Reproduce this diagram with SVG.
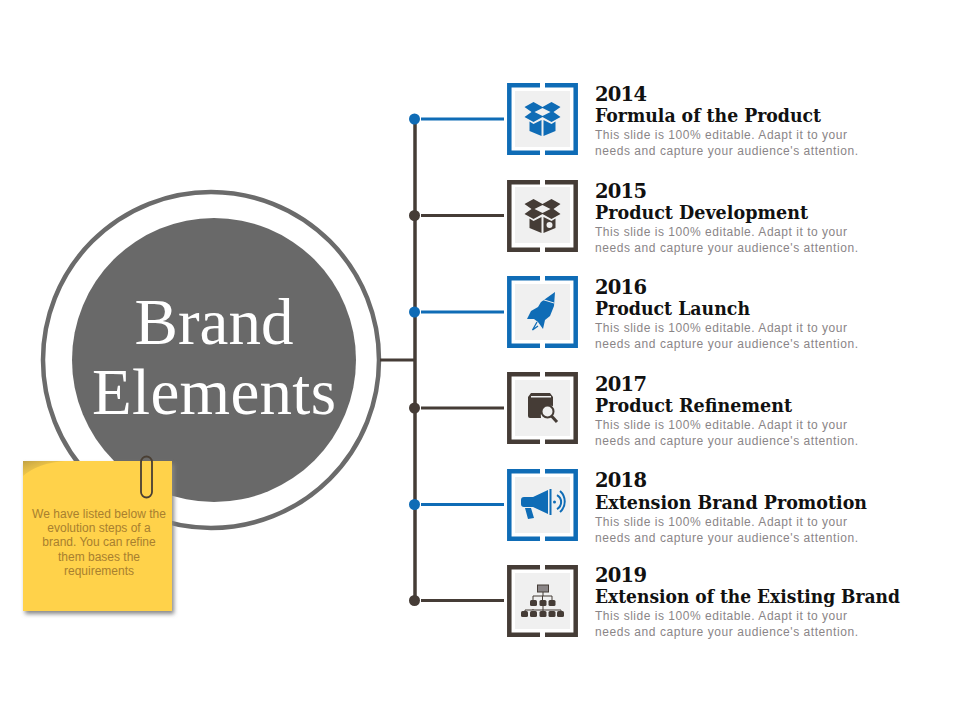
<svg xmlns="http://www.w3.org/2000/svg" width="960" height="720" viewBox="0 0 960 720">
<style>
.yr{font:bold 19.500px "DejaVu Serif","Liberation Serif",serif;fill:#111}
.ttl{font:bold 18px "DejaVu Serif","Liberation Serif",serif;fill:#111}
.dsc{font:12px "Liberation Sans",Arial,sans-serif;fill:#8a8587}
.note{font:12px "Liberation Sans",Arial,sans-serif;fill:#a8802f;text-anchor:middle}
.big{font:65px "Liberation Serif",serif;fill:#fff;text-anchor:middle}
.bg{fill:#f0f0f0}
.fb{fill:none;stroke:#0f6cb6;stroke-width:4.500}
.fd{fill:none;stroke:#453c36;stroke-width:4.500}
.ib{fill:#0f6cb6}
.id{fill:#453c36}
.lb{stroke:#0f6cb6;stroke-width:3;fill:none}
.ld{stroke:#453c36;stroke-width:3;fill:none}
</style>
<defs>
<filter id="sh" x="-10%" y="-10%" width="120%" height="120%"><feGaussianBlur stdDeviation="2"/></filter>
<linearGradient id="fold" x1="0" y1="0" x2="1" y2="1"><stop offset="0" stop-color="#bfa044"/><stop offset="1" stop-color="#ffd24a" stop-opacity="0"/></linearGradient>
<path id="frame" d="M33 2.300H2.300V69.700H33M38 69.700H68.700V2.300H38"/>
<path id="box" d="M-9 -16L0 -11L9 -16L18 -11L11 -6L18 -1L9 4L0 -1L-9 4L-18 -1L-11 -6L-18 -11ZM-13 3.500L-9 6L-1 2V18L-13 13ZM13 3.500L9 6L1 2V18L13 13ZM-8 -6L0 -10L8 -6L0 -2Z" fill-rule="evenodd"/>
</defs>
<rect width="960" height="720" fill="#fff"/>
<g id="brand-circle">
<circle cx="211" cy="360" r="168" fill="#fff" stroke="#6b6b6b" stroke-width="4.500"/>
<circle cx="214" cy="360" r="142" fill="#696969"/>
<text class="big" x="214" y="344" textLength="159">Brand</text>
<text class="big" x="214" y="414" textLength="244">Elements</text>
</g>
<g id="connectors">
<path class="ld" d="M380 360H415"/>
<path d="M415 119V600" stroke="#453c36" stroke-width="3.500" fill="none"/>
<path class="lb" d="M421 119H504"/>
<path class="ld" d="M421 215.500H504"/>
<path class="lb" d="M421 312H504"/>
<path class="ld" d="M421 408H504"/>
<path class="lb" d="M421 504.500H504"/>
<path class="ld" d="M421 600.500H504"/>
<circle class="ib" cx="414.500" cy="119" r="5.500"/>
<circle class="id" cx="414.500" cy="215.500" r="5.500"/>
<circle class="ib" cx="414.500" cy="312" r="5.500"/>
<circle class="id" cx="414.500" cy="408" r="5.500"/>
<circle class="ib" cx="414.500" cy="504.500" r="5.500"/>
<circle class="id" cx="414.500" cy="600.500" r="5.500"/>
</g>
<g id="node-2014">
<use href="#frame" class="fb" x="507" y="83"/>
<rect class="bg" x="515" y="91" width="55" height="56"/>
<use href="#box" class="ib" x="542.500" y="118"/>
<text class="yr" x="595" y="101" textLength="52">2014</text>
<text class="ttl" x="595" y="122" textLength="226" lengthAdjust="spacingAndGlyphs">Formula of the Product</text>
<text class="dsc" x="595" y="139" textLength="252">This slide is 100% editable. Adapt it to your</text>
<text class="dsc" x="595" y="155" textLength="263">needs and capture your audience's attention.</text>
</g>
<g id="node-2015">
<use href="#frame" class="fd" x="507" y="180"/>
<rect class="bg" x="515" y="187" width="55" height="56"/>
<use href="#box" class="id" x="542.500" y="215"/>
<circle cx="549.500" cy="225" r="3" fill="#f0f0f0"/>
<text class="yr" x="595" y="198" textLength="52">2015</text>
<text class="ttl" x="595" y="219" textLength="213" lengthAdjust="spacingAndGlyphs">Product Development</text>
<text class="dsc" x="595" y="236" textLength="252">This slide is 100% editable. Adapt it to your</text>
<text class="dsc" x="595" y="252" textLength="263">needs and capture your audience's attention.</text>
</g>
<g id="node-2016">
<use href="#frame" class="fb" x="507" y="276"/>
<rect class="bg" x="515" y="284" width="55" height="56"/>
<path class="ib" d="M555 292L554 306L550 316L545 320L543 329L538 322L534 319L527 319L531 311L538 307L541 302Z"/>
<path d="M541 299L554 303" stroke="#f0f0f0" stroke-width="1" fill="none"/>
<path d="M537 322L532.500 330L538 326" stroke="#0f6cb6" stroke-width="1.300" fill="none"/>
<text class="yr" x="595" y="294" textLength="52">2016</text>
<text class="ttl" x="595" y="315" textLength="155" lengthAdjust="spacingAndGlyphs">Product Launch</text>
<text class="dsc" x="595" y="332" textLength="252">This slide is 100% editable. Adapt it to your</text>
<text class="dsc" x="595" y="348" textLength="263">needs and capture your audience's attention.</text>
</g>
<g id="node-2017">
<use href="#frame" class="fd" x="507" y="372"/>
<rect class="bg" x="515" y="380" width="55" height="56"/>
<path class="id" d="M531 393H550L553 397V406A10 10 0 0 0 541 418H530A2 2 0 0 1 528 416V397Z"/>
<rect x="531" y="396" width="20" height="1.500" fill="#f0f0f0"/>
<circle cx="547.500" cy="411.500" r="6" fill="#f0f0f0" stroke="#453c36" stroke-width="2"/>
<path class="ld" d="M551.500 416L557 422"/>
<text class="yr" x="595" y="391" textLength="52">2017</text>
<text class="ttl" x="595" y="412" textLength="197" lengthAdjust="spacingAndGlyphs">Product Refinement</text>
<text class="dsc" x="595" y="429" textLength="252">This slide is 100% editable. Adapt it to your</text>
<text class="dsc" x="595" y="445" textLength="263">needs and capture your audience's attention.</text>
</g>
<g id="node-2018">
<use href="#frame" class="fb" x="507" y="469"/>
<rect class="bg" x="515" y="477" width="55" height="56"/>
<path class="ib" d="M524 497H533L548 490V514L533 507H524A3 3 0 0 1 521 504V500A3 3 0 0 1 524 497ZM549.500 489H551.500V515H549.500ZM525 508H531L534 518L528 519Z"/>
<circle class="ib" cx="554.500" cy="502" r="1.500"/>
<path class="lb" style="stroke-width:2" d="M557 495A8 8 0 0 1 557 509M560 491A14 14 0 0 1 560 512"/>
<text class="yr" x="595" y="487" textLength="52">2018</text>
<text class="ttl" x="595" y="509" textLength="272" lengthAdjust="spacingAndGlyphs">Extension Brand Promotion</text>
<text class="dsc" x="595" y="526" textLength="252">This slide is 100% editable. Adapt it to your</text>
<text class="dsc" x="595" y="542" textLength="263">needs and capture your audience's attention.</text>
</g>
<g id="node-2019">
<use href="#frame" class="fd" x="507" y="565"/>
<rect class="bg" x="515" y="573" width="55" height="56"/>
<path d="M543 592V596M533 603V596H552V603M542.500 596V603M533 609V610M525 617V610H561V617M543 606V617" stroke="#453c36" stroke-width="1" fill="none"/>
<rect x="537.500" y="585" width="11" height="7" fill="#8a8587" stroke="#453c36"/>
<g class="id">
<rect x="530" y="600" width="7" height="6" rx="1.500"/><rect x="539.500" y="600" width="7" height="6" rx="1.500"/><rect x="548.500" y="600" width="7" height="6" rx="1.500"/>
<rect x="521" y="611" width="7" height="6" rx="1.500"/><rect x="530" y="611" width="7" height="6" rx="1.500"/><rect x="539.500" y="611" width="7" height="6" rx="1.500"/><rect x="548.500" y="611" width="7" height="6" rx="1.500"/><rect x="557" y="611" width="7" height="6" rx="1.500"/>
</g>
<text class="yr" x="595" y="582" textLength="52">2019</text>
<text class="ttl" x="595" y="603" textLength="305" lengthAdjust="spacingAndGlyphs">Extension of the Existing Brand</text>
<text class="dsc" x="595" y="620" textLength="252">This slide is 100% editable. Adapt it to your</text>
<text class="dsc" x="595" y="636" textLength="263">needs and capture your audience's attention.</text>
</g>
<g id="sticky-note">
<rect x="25" y="464" width="149" height="150" fill="#888" filter="url(#sh)"/>
<rect x="23" y="461" width="149" height="150" fill="#ffd24a"/>
<path d="M23 461H65Q38 463 23 476Z" fill="url(#fold)"/>
<path d="M141 466V462A5.500 5.500 0 0 1 152 462V492A5.500 5.500 0 0 1 141 492V466" fill="none" stroke="#4a3f33" stroke-width="1.800"/>
<text class="note" x="99" y="518" textLength="134">We have listed below the</text>
<text class="note" x="99" y="532">evolution steps of a</text>
<text class="note" x="99" y="546">brand. You can refine</text>
<text class="note" x="99" y="561">them bases the</text>
<text class="note" x="99" y="575">requirements</text>
</g>
</svg>
